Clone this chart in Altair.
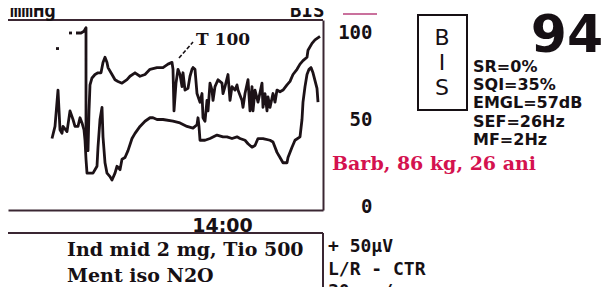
import altair as alt
import pandas as pd

# ---- trend data (x = sample index across the trend window, y = 0-100 scale) ----
upper_dash1_t = [48, 51]
upper_dash1_v = [91, 91]
upper_dash2_t = [61, 64]
upper_dash2_v = [100, 100]

upper_t = [68, 73, 76, 78, 78, 80, 81, 82, 84, 87, 90, 93, 95, 97, 99, 100, 104, 107, 110, 114,
           119, 122, 127, 132, 137, 142, 149, 155, 160, 164, 165, 166, 168, 170, 172, 174, 175, 177, 180, 182,
           184, 185, 187, 189, 192, 194, 195, 197, 199, 200, 202, 204, 205, 207, 210, 214, 215, 217, 220, 222,
           224, 227, 229, 230, 234, 235, 237, 240, 242, 244, 245, 247, 250, 254, 255, 257, 259, 260, 262, 265,
           267, 269, 272, 275, 279, 282, 285, 289, 292, 295, 299, 300, 304, 307, 312]
upper_v = [100, 100, 101, 103, 35, 32, 55, 70, 74, 76, 77, 77, 83, 86, 83, 80, 76, 73, 72, 71,
           73, 75, 77, 75, 76, 79, 80, 80, 82, 83, 79, 55, 71, 79, 76, 69, 77, 67, 68, 75,
           79, 80, 79, 65, 60, 65, 51, 49, 61, 55, 71, 67, 61, 69, 73, 71, 65, 69, 76, 61,
           69, 67, 70, 67, 61, 57, 65, 73, 55, 69, 55, 67, 60, 71, 57, 65, 55, 63, 57, 65,
           60, 67, 66, 67, 70, 72, 76, 79, 82, 84, 86, 90, 94, 96, 98]

lower_t = [44, 47, 50, 52, 54, 55, 59, 62, 65, 67, 70, 72, 74, 76, 77, 78, 79, 85, 89, 90,
           92, 94, 95, 97, 99, 102, 104, 107, 109, 112, 114, 117, 120, 124, 127, 132, 137, 142, 145, 149,
           155, 165, 172, 179, 185, 189, 190, 191, 192, 197, 202, 209, 215, 219, 224, 229, 232, 237, 240, 244,
           247, 250, 255, 262, 265, 269, 272, 275, 279, 280, 284, 287, 292, 294, 295, 297, 299, 301, 303, 305,
           309, 310]
lower_v = [39, 46, 67, 44, 42, 46, 43, 55, 50, 46, 46, 51, 48, 44, 38, 27, 19, 19, 23, 34,
           50, 57, 40, 25, 19, 17, 15, 19, 23, 21, 27, 28, 32, 39, 42, 46, 49, 51, 51, 50,
           50, 49, 48, 46, 45, 47, 51, 46, 38, 38, 39, 41, 40, 40, 39, 40, 39, 38, 36, 34,
           35, 39, 39, 38, 37, 31, 28, 25, 25, 28, 34, 38, 40, 50, 60, 69, 76, 79, 80, 77,
           68, 60]

y_ticks = [0, 50, 100]
time_tick = [214]
time_label = "14:00"

bis_value = "94"
bis_letters = ["B", "I", "S"]
params = ["SR=0%", "SQI=35%", "EMGL=57dB", "SEF=26Hz", "MF=2Hz"]
patient = "Barb, 86 kg, 26 ani"
marker = "T 100"
note1 = "Ind mid 2 mg, Tio 500"
note2 = "Ment iso N2O"
scale_lines = ["+ 50µV", "L/R - CTR", "30 mm/s"]
top_left_label = "mmHg"
top_right_label = "BIS"

# ---- build table ----
segments = [
    ("u_dash1", upper_dash1_t, upper_dash1_v),
    ("u_dash2", upper_dash2_t, upper_dash2_v),
    ("upper", upper_t, upper_v),
    ("lower", lower_t, lower_v),
]
rows = []
for seg, ts, vs in segments:
    for i, (t, v) in enumerate(zip(ts, vs)):
        rows.append({"seg": seg, "i": i, "t": t, "v": v})
df = pd.DataFrame(rows)

INK = "#161014"
FRAME = "#3a2632"

trend = alt.Chart(df).mark_line(color="#1c1217", strokeWidth=2.8, strokeJoin="round").encode(
    x=alt.X("t:Q", scale=alt.Scale(domain=[0, 315], nice=False, zero=False),
            axis=alt.Axis(values=time_tick, labelExpr=f"'{time_label}'", title=None, ticks=False,
                          grid=False, domainColor=FRAME, domainWidth=2, labelFont="DejaVu Sans",
                          labelFontWeight="bold", labelFontSize=19, labelColor=INK,
                          labelBaseline="top", labelPadding=6)),
    y=alt.Y("v:Q", scale=alt.Scale(domain=[-2.3, 107.5], nice=False, zero=False),
            axis=alt.Axis(orient="right", values=y_ticks, title=None, ticks=False, grid=False,
                          domainColor=FRAME, domainWidth=2, labelAlign="right", labelPadding=49,
                          labelBaseline="middle", labelFont="DejaVu Sans Mono", labelFontWeight="bold",
                          labelFontSize=19, labelColor=INK)),
    detail="seg:N",
    order="i:Q",
)

one = pd.DataFrame({"k": [0]})


def rule(x, x2, y, y2, color=FRAME, width=2, dash=None):
    kw = dict(color=color, strokeWidth=width)
    if dash:
        kw["strokeDash"] = dash
    return alt.Chart(one).mark_rule(**kw).encode(
        x=alt.value(x), x2=alt.value(x2), y=alt.value(y), y2=alt.value(y2))


def text(label, x, y, font, size, weight="bold", color=INK, align="left", baseline="alphabetic"):
    kw = dict(font=font, fontSize=size, fontWeight=weight, color=color, align=align, baseline=baseline)
    return alt.Chart(pd.DataFrame({"label": [label]})).mark_text(**kw).encode(
        text="label:N", x=alt.value(x), y=alt.value(y))


layers = [
    trend,
    rule(0, 315, 0, 0),                    # top edge of trend box
    rule(0, 315, 213, 213),                # top edge of lower box
    rule(315, 315, 213, 280),              # right edge of lower box
    rule(335, 369, -6, -6, color="#b8427c", width=1.5),
    rule(171, 185, 38, 22, color=INK, width=1.6, dash=[4, 2]),
    text(top_left_label, 2, -3, "DejaVu Sans Mono", 19),
    text(top_right_label, 282, -3, "DejaVu Sans Mono", 19),
    text(marker, 188, 25, "DejaVu Serif", 17),
    text(note1, 59, 236, "DejaVu Serif", 19),
    text(note2, 59, 262, "DejaVu Serif", 19),
    text(patient, 324, 150, "DejaVu Serif", 19, color="#d4124f"),
    text(bis_value, 559, 32, "DejaVu Sans", 52, align="center"),
    alt.Chart(one).mark_rect(fill="white", fillOpacity=0, stroke=INK, strokeWidth=2).encode(
        x=alt.value(410), x2=alt.value(459), y=alt.value(-5), y2=alt.value(90)),
]
for line, yb in zip(scale_lines, [232, 255, 277]):
    layers.append(text(line, 320, yb, "DejaVu Sans Mono", 18))
for line, yb in zip(params, [52, 70, 88, 107, 125]):
    layers.append(text(line, 465, yb, "DejaVu Sans", 16))
for letter, yb in zip(bis_letters, [25, 50, 75]):
    layers.append(text(letter, 434, yb, "DejaVu Sans", 22, weight="normal", align="center"))

chart = alt.layer(*layers).properties(
    width=315, height=190,
    autosize=alt.AutoSizeParams(type="none"),
    padding={"left": 0, "top": 12, "right": 285, "bottom": 77},
    background="white",
).configure_view(stroke=None)

chart.save("out.html", embed_options={"renderer": "svg", "actions": False})
